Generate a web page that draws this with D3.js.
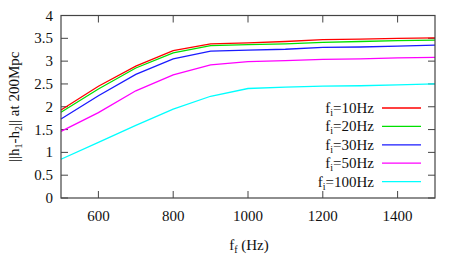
<!DOCTYPE html>
<html>
<head>
<meta charset="utf-8">
<script src="https://cdn.jsdelivr.net/npm/d3@7"></script>
<style>
  body { margin: 0; background: #fff; }
</style>
</head>
<body>
<div id="chart"></div>
<script>
var w = 458, h = 275;

// frequencies f_f (Hz)
var ff = [500, 600, 700, 800, 900, 1000, 1100, 1200, 1300, 1400, 1500];

var fi10  = [1.93, 2.45, 2.89, 3.23, 3.38, 3.40, 3.43, 3.47, 3.48, 3.50, 3.51];
var fi20  = [1.88, 2.39, 2.85, 3.18, 3.34, 3.36, 3.38, 3.41, 3.43, 3.45, 3.46];
var fi30  = [1.73, 2.24, 2.71, 3.05, 3.22, 3.24, 3.26, 3.30, 3.31, 3.33, 3.35];
var fi50  = [1.46, 1.87, 2.35, 2.70, 2.92, 2.99, 3.01, 3.04, 3.05, 3.07, 3.08];
var fi100 = [0.85, 1.22, 1.59, 1.95, 2.23, 2.40, 2.43, 2.45, 2.46, 2.48, 2.50];

var seriesNames = ["10Hz", "20Hz", "30Hz", "50Hz", "100Hz"];
var seriesVals = [fi10, fi20, fi30, fi50, fi100];
var colors = ["#ff0000", "#00e000", "#1a1aff", "#ff00ff", "#00ffff"];

var xTicks = [600, 800, 1000, 1200, 1400];
var yTicks = [0, 0.5, 1, 1.5, 2, 2.5, 3, 3.5, 4];

var m = {left: 61, right: 23, top: 15.5, bottom: 77};
var fs = 15;

var svg = d3.select("#chart").append("svg")
  .attr("width", w).attr("height", h)
  .attr("font-family", "'Liberation Serif', 'Times New Roman', Times, serif")
  .attr("fill", "#111");

var x = d3.scaleLinear().domain([500, 1500]).range([m.left, w - m.right]);
var y = d3.scaleLinear().domain([0, 4]).range([h - m.bottom, m.top]);

var axisCol = "#444";
var tl = 7;

// ticks (inward, mirrored)
svg.append("g").selectAll("line").data(xTicks).enter().append("line")
  .attr("x1", d => x(d)).attr("x2", d => x(d))
  .attr("y1", y(0)).attr("y2", y(0) - tl)
  .attr("stroke", axisCol);
svg.append("g").selectAll("line").data(xTicks).enter().append("line")
  .attr("x1", d => x(d)).attr("x2", d => x(d))
  .attr("y1", y(4)).attr("y2", y(4) + tl)
  .attr("stroke", axisCol);
svg.append("g").selectAll("line").data(yTicks).enter().append("line")
  .attr("x1", x(500)).attr("x2", x(500) + tl)
  .attr("y1", d => y(d)).attr("y2", d => y(d))
  .attr("stroke", axisCol);
svg.append("g").selectAll("line").data(yTicks).enter().append("line")
  .attr("x1", x(1500)).attr("x2", x(1500) - tl)
  .attr("y1", d => y(d)).attr("y2", d => y(d))
  .attr("stroke", axisCol);

// tick labels
svg.append("g").selectAll("text").data(xTicks).enter().append("text")
  .attr("x", d => x(d)).attr("y", y(0) + 23)
  .attr("text-anchor", "middle").attr("font-size", fs)
  .text(d => d);
svg.append("g").selectAll("text").data(yTicks).enter().append("text")
  .attr("x", x(500) - 8).attr("y", d => y(d) + 5)
  .attr("text-anchor", "end").attr("font-size", fs)
  .text(d => d);

// lines
var line = d3.line().x((d, i) => x(ff[i])).y(d => y(d));
svg.append("g").selectAll("path").data(seriesVals).enter().append("path")
  .attr("d", d => line(d))
  .attr("fill", "none")
  .attr("stroke", (d, i) => colors[i])
  .attr("stroke-width", 1.3);

// frame
svg.append("rect")
  .attr("x", x(500)).attr("y", y(4))
  .attr("width", x(1500) - x(500)).attr("height", y(0) - y(4))
  .attr("fill", "none").attr("stroke", axisCol).attr("stroke-width", 1.2);

// legend
var lg = svg.append("g");
seriesNames.forEach(function(s, i) {
  var yy = 108 + i * 18.4;
  var t = lg.append("text").attr("x", 374).attr("y", yy + 5)
    .attr("text-anchor", "end").attr("font-size", fs);
  t.append("tspan").text("f");
  t.append("tspan").attr("font-size", 10).attr("dy", 3).text("i");
  t.append("tspan").attr("dy", -3).text("=" + s);
  lg.append("line").attr("x1", 382).attr("x2", 421)
    .attr("y1", yy).attr("y2", yy)
    .attr("stroke", colors[i]).attr("stroke-width", 1.3);
});

// axis labels
var xl = svg.append("text").attr("x", 249).attr("y", 250)
  .attr("text-anchor", "middle").attr("font-size", fs);
xl.append("tspan").text("f");
xl.append("tspan").attr("font-size", 10).attr("dy", 3).text("f");
xl.append("tspan").attr("dy", -3).text(" (Hz)");

var yl = svg.append("text")
  .attr("transform", "translate(19," + ((y(0) + y(4)) / 2) + ") rotate(-90)")
  .attr("text-anchor", "middle").attr("font-size", fs);
yl.append("tspan").text("||h");
yl.append("tspan").attr("font-size", 10).attr("dy", 3).text("1");
yl.append("tspan").attr("dy", -3).text("-h");
yl.append("tspan").attr("font-size", 10).attr("dy", 3).text("2");
yl.append("tspan").attr("dy", -3).text("|| at 200Mpc");
</script>
</body>
</html>
